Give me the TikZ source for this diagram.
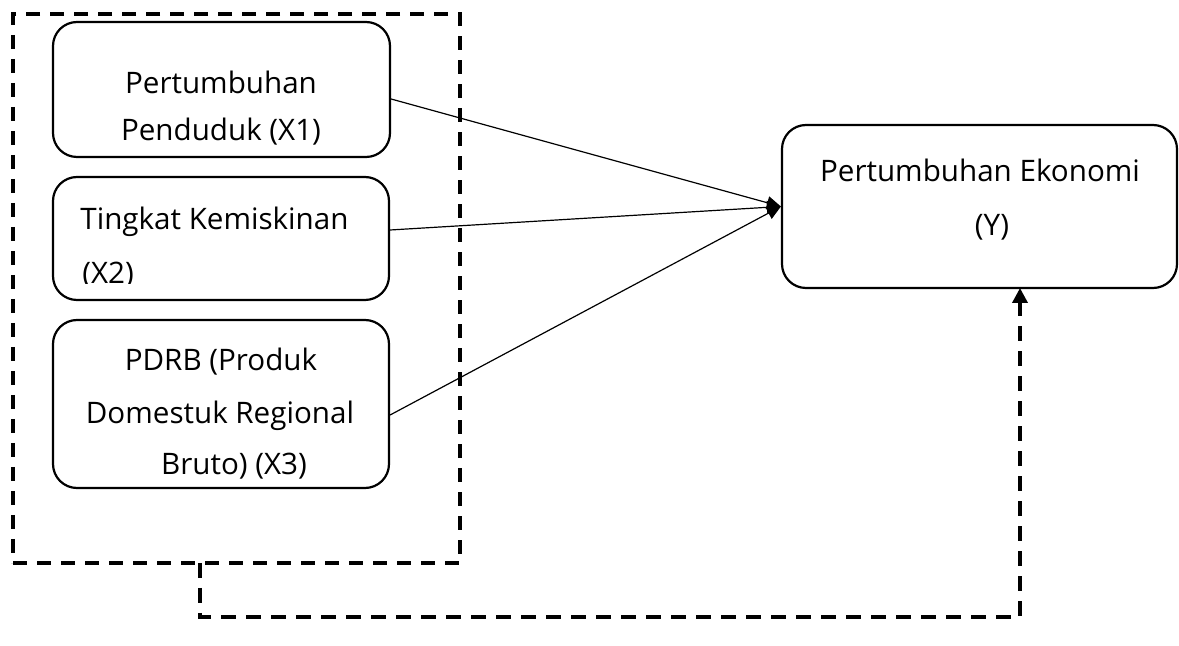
\documentclass[tikz,border=0pt]{standalone}
\usepackage{fontspec}
\setmainfont{Open Sans}
\usetikzlibrary{arrows.meta, positioning}

\begin{document}
\begin{tikzpicture}[x=0.5pt, y=-0.5pt, >={Triangle[length=7pt, width=6.5pt]},
	box/.style={draw, line width=1.1pt, rounded corners=12pt, inner sep=0pt},
	txt/.style={inner sep=0pt, font=\fontsize{14.8}{25}\selectfont},
	link/.style={line width=0.6pt, ->},
	dashbox/.style={draw, line width=1.8pt, dash pattern=on 7pt off 5pt, inner sep=0pt}]
	% --- canvas ---
	\useasboundingbox (0,0) rectangle (1179,646);
	
	% --- grouping frame ---
	\node[dashbox, minimum width=223.5pt, minimum height=274.5pt] (grp) at (236.5,288.5) {};
	
	% --- independent variables ---
	\node[box, minimum width=168.5pt, minimum height=67.5pt] (b1) at (221.5,89.5) {};
	\node[box, minimum width=168pt, minimum height=61.5pt] (b2) at (221,238.5) {};
	\node[box, minimum width=168pt, minimum height=84pt] (b3) at (221,404) {};
	
	\node[txt] (t1a) at (221,82) {Pertumbuhan};
	\node[txt] (t1b) at (221,132) {Penduduk (X1)};
	
	\node[txt, anchor=west] (t2a) at (80,222) {Tingkat Kemiskinan};
	\begin{scope}
		\clip (53,177) rectangle (389,284);
		\node[txt, anchor=west] (t2b) at (82,275.5) {(X2)};
	\end{scope}
	
	\node[txt] (t3a) at (221,362) {PDRB (Produk};
	\node[txt] (t3b) at (220,416) {Domestuk Regional};
	\node[txt] (t3c) at (234,466) {Bruto) (X3)};
	
	% --- dependent variable ---
	\node[box, minimum width=197.5pt, minimum height=81.5pt] (y) at (979.5,206.5) {};
	\node[txt] (ya) at (980,170) {Pertumbuhan Ekonomi};
	\node[txt] (yb) at (992,227) {(Y)};
	
	% --- partial effects ---
	\coordinate (tip) at (y.west);
	\draw[link] ([yshift=-4.75pt]b1.east) -- (tip);
	\draw[link] ([yshift=4.25pt]b2.east) -- (tip);
	\draw[link] ([yshift=-5.5pt]b3.east) -- (tip);
	
	% --- joint effect ---
	\coordinate (jstart) at (200,563);
	\coordinate (jend) at (1020,288);
	\draw[line width=1.8pt, dash pattern=on 7.5pt off 5pt, -{Triangle[length=7.5pt, width=7.5pt]}]
		(jstart) -- (200,617) -| (jend);
\end{tikzpicture}
\end{document}
